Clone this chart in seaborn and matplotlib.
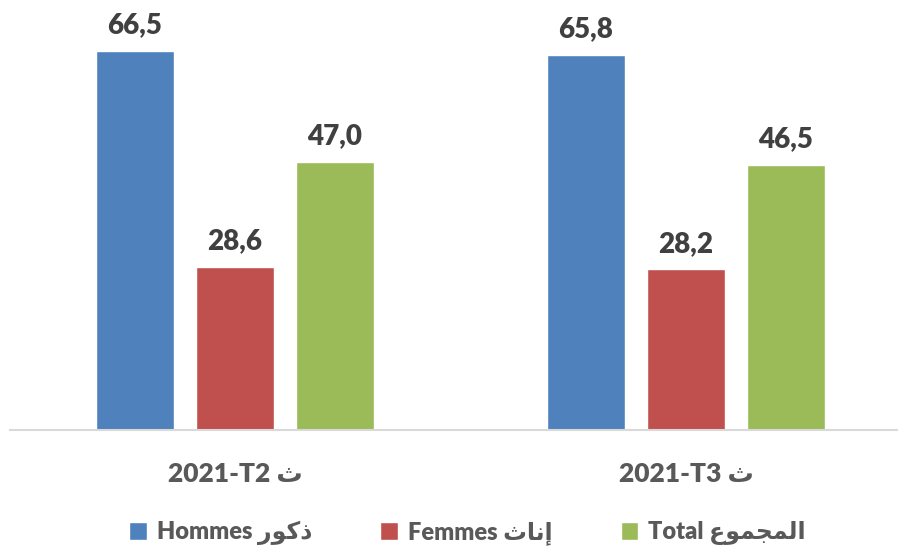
import matplotlib
matplotlib.use("Agg")
import matplotlib.pyplot as plt
import seaborn as sns
import pandas as pd

# ---- data ----
periods = ["2021-T2 \u062B", "2021-T3 \u062B"]
series = [
    "Hommes \uFEAD\uFEEE\uFEDB\uFEAB",          # ذكور (visual order, shaped)
    "Femmes \uFE99\uFE8E\uFEE7\uFE87",          # إناث
    "Total \uFEC9\uFEEE\uFEE4\uFEA0\uFEE4\uFEDF\uFE8D",  # المجموع
]
hommes = [66.5, 65.8]
femmes = [28.6, 28.2]
total = [47.0, 46.5]
colors = ["#4F81BD", "#C0504D", "#9BBB59"]

rows = []
for s, vals in zip(series, [hommes, femmes, total]):
    for p, v in zip(periods, vals):
        rows.append({"period": p, "series": s, "value": v})
df = pd.DataFrame(rows)

sns.set_theme(style="white")
plt.rcParams["font.family"] = ["Lato", "DejaVu Sans"]

W, H = 898, 549
fig = plt.figure(figsize=(W / 100, H / 100), dpi=100)
ax = fig.add_axes([10 / W, (H - 430) / H, 887 / W, 399 / H])

sns.barplot(data=df, x="period", y="value", hue="series", order=periods,
            hue_order=series, palette=colors, width=0.665, gap=0.22,
            saturation=1, ax=ax, legend=True)

ax.set_xlim(-0.4989, 1.4678)
ax.set_ylim(0, 70)

for cont in ax.containers:
    labels = [f"{b.get_height():.1f}".replace(".", ",") for b in cont]
    ax.bar_label(cont, labels=labels, padding=9, fontsize=20,
                 fontweight="heavy", color="#404040")

for side in ["left", "right", "top"]:
    ax.spines[side].set_visible(False)
ax.spines["bottom"].set_color("#D9D9D9")
ax.spines["bottom"].set_linewidth(1.5)
ax.set_yticks([])
ax.set_xlabel("")
ax.set_ylabel("")
ax.tick_params(axis="x", length=0, pad=23)
for t in ax.get_xticklabels():
    t.set_fontsize(19)
    t.set_fontweight("heavy")
    t.set_color("#595959")

handles, labels = ax.get_legend_handles_labels()
ax.legend(handles, labels, loc="center",
          bbox_to_anchor=(0.5 + 14 / 887, (H - 533 - 119) / 399),
          bbox_transform=ax.transAxes, ncol=3, frameon=False,
          handlelength=0.75, handleheight=0.75, handletextpad=0.4, columnspacing=2.9,
          prop={"size": 17, "weight": "heavy"}, labelcolor="#595959")

fig.savefig("out.png", dpi=100)
